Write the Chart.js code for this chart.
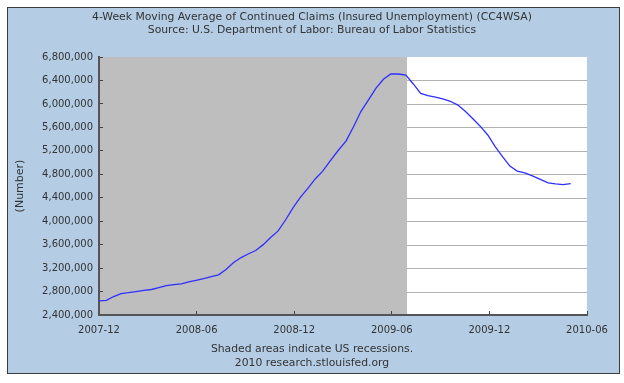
<!DOCTYPE html>
<html>
<head>
<meta charset="utf-8">
<script src="https://cdn.jsdelivr.net/npm/chart.js@4.4.0/dist/chart.umd.min.js"></script>
<style>
html,body{margin:0;padding:0;background:#fff;}
#wrap{width:624px;height:383px;position:relative;}
canvas{display:block;}
</style>
</head>
<body>
<div id="wrap"><canvas id="c" width="624" height="383"></canvas></div>
<script>
// ---- data ----
const titleLines = [
  '4-Week Moving Average of Continued Claims (Insured Unemployment) (CC4WSA)',
  'Source: U.S. Department of Labor: Bureau of Labor Statistics'
];
const footerLines = ['Shaded areas indicate US recessions.', '2010 research.stlouisfed.org'];
const yAxisTitle = '(Number)';
const xTickLabels = ['2007-12', '2008-06', '2008-12', '2009-06', '2009-12', '2010-06'];
const yMin = 2400000, yMax = 6800000, yStep = 400000;
const recession = ['2007-12-01', '2009-06-29'];

const weeks = [
  '2007-12-01','2007-12-15','2007-12-29',
  '2008-01-12','2008-01-26','2008-02-09','2008-02-23','2008-03-08','2008-03-22','2008-04-05','2008-04-19',
  '2008-05-03','2008-05-17','2008-05-31','2008-06-14','2008-06-28','2008-07-12','2008-07-26','2008-08-09',
  '2008-08-23','2008-09-06','2008-09-20','2008-10-04','2008-10-18','2008-11-01','2008-11-15','2008-11-29',
  '2008-12-13','2008-12-27',
  '2009-01-10','2009-01-24','2009-02-07','2009-02-21','2009-03-07','2009-03-21','2009-04-04','2009-04-18',
  '2009-05-02','2009-05-16','2009-05-30','2009-06-13','2009-06-27','2009-07-11','2009-07-25','2009-08-08',
  '2009-08-22','2009-09-05','2009-09-19','2009-10-03','2009-10-17','2009-10-31','2009-11-14','2009-11-28',
  '2009-12-12','2009-12-26',
  '2010-01-09','2010-01-23','2010-02-06','2010-02-20','2010-03-06','2010-03-20','2010-04-03','2010-04-17',
  '2010-05-01'
];
const claims = [
  2640000, 2650000, 2715000,
  2765000, 2780000, 2800000, 2820000, 2835000, 2866000, 2900000, 2918000,
  2932000, 2963000, 2990000, 3020000, 3055000, 3085000, 3175000, 3290000,
  3375000, 3440000, 3500000, 3600000, 3720000, 3830000, 4020000, 4230000,
  4410000, 4560000,
  4720000, 4850000, 5030000, 5210000, 5370000, 5610000, 5870000, 6070000,
  6270000, 6420000, 6510000, 6510000, 6490000, 6340000, 6180000, 6140000,
  6115000, 6085000, 6045000, 5980000, 5875000, 5750000, 5620000, 5470000,
  5270000, 5100000,
  4940000, 4855000, 4825000, 4770000, 4710000, 4652000, 4635000, 4625000,
  4640000
];

// ---- helpers ----
function monthsSince(s) {
  const [y, m, d] = s.split('-').map(Number);
  const dim = new Date(y, m, 0).getDate();
  return (y - 2007) * 12 + (m - 12) + (d - 1) / dim;
}

const points = weeks.map((w, i) => ({ x: monthsSince(w), y: claims[i] }));

Chart.defaults.font.family = "'DejaVu Sans', sans-serif";
Chart.defaults.color = '#333';

const framePlugin = {
  id: 'frame',
  beforeDraw(chart) {
    const { ctx, chartArea: a, scales } = chart;
    ctx.save();
    ctx.fillStyle = '#ffffff';
    ctx.fillRect(0, 0, chart.width, chart.height);
    ctx.fillStyle = '#b4cde4';
    ctx.fillRect(7, 7, 613, 367);
    ctx.strokeStyle = '#3c3c3c';
    ctx.lineWidth = 1;
    ctx.strokeRect(7.5, 7.5, 612, 366);
    // plot background
    ctx.fillStyle = '#ffffff';
    ctx.fillRect(a.left, a.top, a.right - a.left, a.bottom - a.top);
    const x0 = scales.x.getPixelForValue(monthsSince(recession[0]));
    const x1 = scales.x.getPixelForValue(monthsSince(recession[1]));
    ctx.fillStyle = '#bebebe';
    ctx.fillRect(x0, a.top, x1 - x0, a.bottom - a.top);
    // horizontal grid lines only in the unshaded area
    ctx.strokeStyle = '#b2b2b2';
    ctx.lineWidth = 1;
    scales.y.ticks.forEach(t => {
      if (t.value <= yMin || t.value >= yMax) return;
      const y = Math.round(scales.y.getPixelForValue(t.value)) + 0.5;
      ctx.beginPath();
      ctx.moveTo(x1, y);
      ctx.lineTo(a.right, y);
      ctx.stroke();
    });
    ctx.restore();
  }
};

new Chart(document.getElementById('c'), {
  type: 'line',
  data: {
    datasets: [{
      data: points,
      yAxisID: 'y',
      borderColor: '#2e2eff',
      borderWidth: 1.3,
      pointRadius: 0,
      fill: false,
      tension: 0
    }]
  },
  options: {
    responsive: false,
    animation: false,
    devicePixelRatio: 1,
    layout: { padding: 0 },
    plugins: {
      legend: { display: false },
      tooltip: { enabled: false },
      title: {
        display: true,
        text: titleLines,
        color: '#333',
        font: { size: 10.8, weight: 'normal', lineHeight: 1.25 },
        padding: { top: 10.2, bottom: 19.8 }
      },
      subtitle: {
        display: true,
        position: 'bottom',
        text: footerLines,
        color: '#333',
        font: { size: 10.8, weight: 'normal', lineHeight: 1.25 },
        padding: { top: 7.6, bottom: 13.4 }
      }
    },
    scales: {
      x: {
        type: 'linear',
        min: 0,
        max: 30,
        afterFit(s) { s.height = 20; },
        border: { display: true, color: '#555', width: 2 },
        grid: { drawOnChartArea: false, drawTicks: true, tickLength: -4, tickColor: '#444', tickWidth: 1 },
        ticks: {
          stepSize: 6,
          autoSkip: false,
          maxRotation: 0,
          padding: 13,
          color: '#333',
          font: { size: 10 },
          callback: v => xTickLabels[Math.round(v / 6)] ?? ''
        }
      },
      y: {
        type: 'linear',
        position: 'left',
        min: yMin,
        max: yMax,
        afterFit(s) { s.width = 99; },
        border: { display: true, color: '#555', width: 2 },
        grid: { drawOnChartArea: false, drawTicks: true, tickLength: -4, tickColor: '#444', tickWidth: 1 },
        title: {
          display: true,
          text: yAxisTitle,
          color: '#333',
          font: { size: 11, weight: 'normal', lineHeight: 1.25 },
          padding: { top: 13, bottom: 0 }
        },
        ticks: {
          stepSize: yStep,
          padding: 10,
          color: '#333',
          font: { size: 10 },
          callback: v => v.toLocaleString('en-US')
        }
      },
      yRight: {
        type: 'linear',
        position: 'right',
        min: yMin,
        max: yMax,
        afterFit(s) { s.width = 37; },
        border: { display: false },
        grid: { display: false },
        ticks: { display: false }
      }
    }
  },
  plugins: [framePlugin]
});
</script>
</body>
</html>
